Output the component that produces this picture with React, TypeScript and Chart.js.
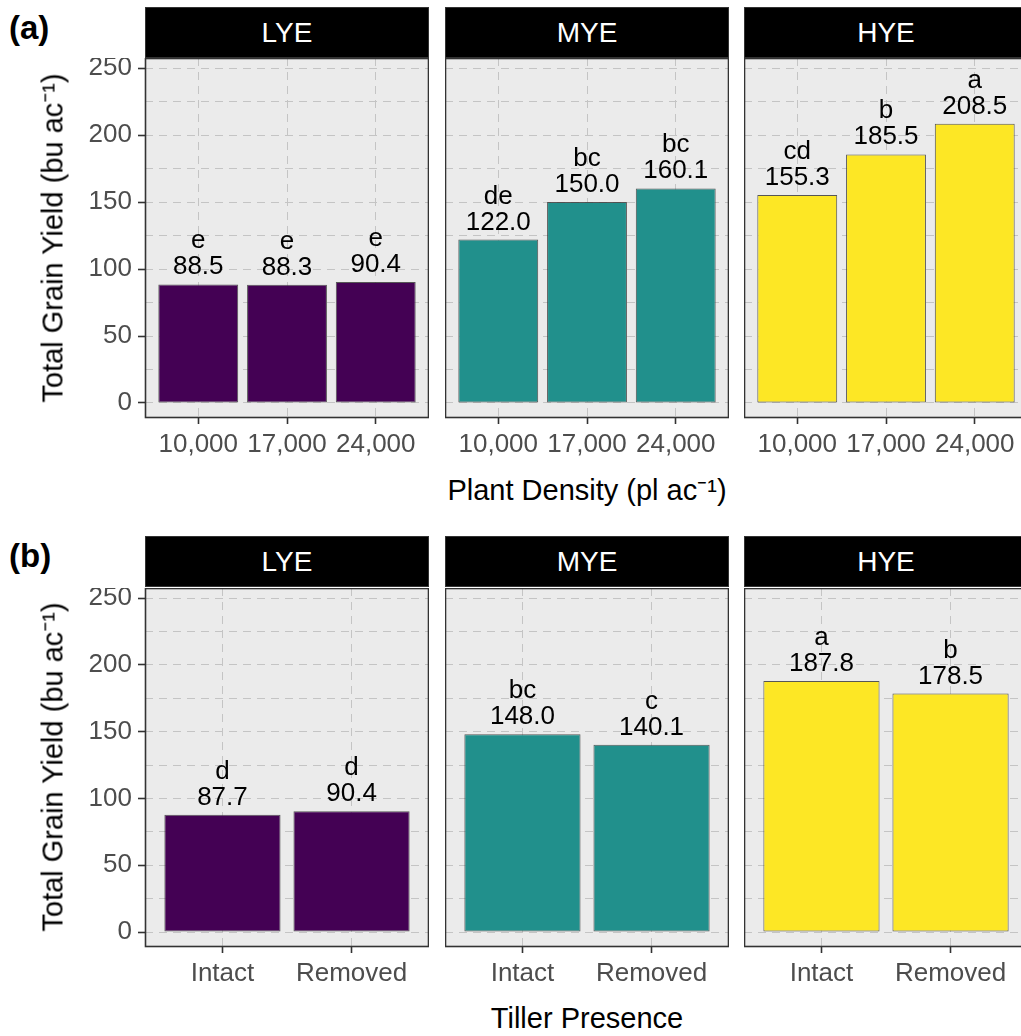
import React, { useEffect, useRef } from "react";
import { Chart, registerables } from "chart.js";
Chart.register(...registerables);

// ---------- data ----------
const hybrids = ["LYE", "MYE", "HYE"];
const hybridColors = ["#440154", "#21908C", "#FDE725"];

const densityCategories = ["10,000", "17,000", "24,000"];
const densityLYE = [88.5, 88.3, 90.4];
const densityMYE = [122.0, 150.0, 160.1];
const densityHYE = [155.3, 185.5, 208.5];
const densityLettersLYE = ["e", "e", "e"];
const densityLettersMYE = ["de", "bc", "bc"];
const densityLettersHYE = ["cd", "b", "a"];

const tillerCategories = ["Intact", "Removed"];
const tillerLYE = [87.7, 90.4];
const tillerMYE = [148.0, 140.1];
const tillerHYE = [187.8, 178.5];
const tillerLettersLYE = ["d", "d"];
const tillerLettersMYE = ["bc", "c"];
const tillerLettersHYE = ["a", "b"];

const yGridValues = [0, 25, 50, 75, 100, 125, 150, 175, 200, 225, 250];
const yMin = -11.2;
const yMax = 257.5;

const FONT = "'Liberation Sans', Arial, Helvetica, sans-serif";

type PanelProps = {
  categories: string[];
  values: number[];
  letters: string[];
  color: string;
  showY: boolean;
  left: number;
  top: number;
  width: number;
  height: number;
};

const Y_AXIS_W = 90;
const X_AXIS_H = 52;

function Panel({ categories, values, letters, color, showY, left, top, width, height }: PanelProps) {
  const ref = useRef<HTMLCanvasElement | null>(null);
  const yW = showY ? Y_AXIS_W : 0;
  const cw = width + yW;
  const ch = height + X_AXIS_H;

  useEffect(() => {
    if (!ref.current) return;
    const n = categories.length;
    const bgPlugin = {
      id: "panelBg",
      beforeDraw(chart: any) {
        const { ctx, chartArea: a } = chart;
        ctx.save();
        ctx.fillStyle = "#EBEBEB";
        ctx.fillRect(a.left, a.top, a.right - a.left, a.bottom - a.top);
        ctx.restore();
      },
      afterDraw(chart: any) {
        const { ctx, chartArea: a } = chart;
        ctx.save();
        ctx.strokeStyle = "#333333";
        ctx.lineWidth = 1.6;
        ctx.strokeRect(a.left + 0.5, a.top + 0.5, a.right - a.left - 1, a.bottom - a.top - 1);
        ctx.restore();
      },
    };
    const labelPlugin = {
      id: "barLabels",
      afterDatasetsDraw(chart: any) {
        const { ctx } = chart;
        const meta = chart.getDatasetMeta(0);
        ctx.save();
        ctx.fillStyle = "#000000";
        ctx.font = `26px ${FONT}`;
        ctx.textAlign = "center";
        ctx.textBaseline = "alphabetic";
        meta.data.forEach((bar: any, i: number) => {
          ctx.fillText(values[i].toFixed(1), bar.x, bar.y - 10);
          ctx.fillText(letters[i], bar.x, bar.y - 36);
        });
        ctx.restore();
      },
    };

    const chart = new Chart(ref.current, {
      type: "bar",
      data: {
        datasets: [
          {
            data: values.map((v, i) => ({ x: i, y: v })),
            backgroundColor: color,
            borderColor: "rgba(60,60,60,0.85)",
            borderWidth: 1,
            borderSkipped: false,
            barPercentage: 0.9,
            categoryPercentage: 1,
          } as any,
        ],
      },
      options: {
        animation: false,
        responsive: false,
        maintainAspectRatio: false,
        layout: { padding: 0 },
        plugins: { legend: { display: false }, tooltip: { enabled: false } },
        scales: {
          x: {
            type: "linear",
            offset: false,
            min: -0.6,
            max: n - 1 + 0.6,
            afterBuildTicks: (s: any) => {
              s.ticks = categories.map((_, i) => ({ value: i }));
            },
            afterFit: (s: any) => {
              s.height = X_AXIS_H;
              s.paddingLeft = 0;
              s.paddingRight = 0;
            },
            grid: {
              offset: false,
              color: "#C4C4C4",
              lineWidth: 1,
              tickColor: "#333333",
              tickLength: 6,
              tickWidth: 1.6,
            },
            border: { display: false, dash: [8, 6] },
            ticks: {
              autoSkip: false,
              maxRotation: 0,
              minRotation: 0,
              padding: 5,
              color: "#4D4D4D",
              font: { family: FONT, size: 26 },
              callback: (v: any) => categories[v] ?? "",
            },
          } as any,
          y: {
            type: "linear",
            min: yMin,
            max: yMax,
            afterBuildTicks: (s: any) => {
              s.ticks = yGridValues.map((v) => ({ value: v }));
            },
            afterFit: (s: any) => {
              s.width = yW;
              s.paddingTop = 0;
              s.paddingBottom = 0;
            },
            grid: {
              color: "#C4C4C4",
              lineWidth: 1,
              drawTicks: showY,
              tickLength: showY ? 7 : 0,
              tickWidth: 1.6,
              tickColor: (ctx: any) =>
                showY && ctx.tick && ctx.tick.value % 50 === 0 ? "#333333" : "rgba(0,0,0,0)",
            },
            border: { display: false, dash: [8, 6] },
            ticks: {
              display: showY,
              padding: 6,
              color: "#4D4D4D",
              font: { family: FONT, size: 26 },
              callback: (v: any) => (Number(v) % 50 === 0 ? String(v) : ""),
            },
          } as any,
        },
      },
      plugins: [bgPlugin, labelPlugin],
    });
    return () => chart.destroy();
  }, []);

  return (
    <canvas
      ref={ref}
      width={cw}
      height={ch}
      style={{ position: "absolute", left: left - yW, top, width: cw, height: ch }}
    />
  );
}

const panelLefts = [145, 445, 744];
const PANEL_W = 284;

function Strip({ label, left, top }: { label: string; left: number; top: number }) {
  return (
    <div
      style={{
        position: "absolute",
        left,
        top,
        width: PANEL_W,
        height: 51,
        background: "#000",
        color: "#fff",
        fontFamily: FONT,
        fontSize: 28,
        display: "flex",
        alignItems: "center",
        justifyContent: "center",
        boxSizing: "border-box",
        border: "1px solid #333",
      }}
    >
      {label}
    </div>
  );
}

export default function App() {
  const rowA = [
    { v: densityLYE, l: densityLettersLYE },
    { v: densityMYE, l: densityLettersMYE },
    { v: densityHYE, l: densityLettersHYE },
  ];
  const rowB = [
    { v: tillerLYE, l: tillerLettersLYE },
    { v: tillerMYE, l: tillerLettersMYE },
    { v: tillerHYE, l: tillerLettersHYE },
  ];
  const textBase: React.CSSProperties = {
    position: "absolute",
    fontFamily: FONT,
    whiteSpace: "nowrap",
    color: "#000",
    lineHeight: 1,
  };
  return (
    <div
      style={{
        position: "fixed",
        left: 0,
        top: 0,
        width: 1021,
        height: 1036,
        overflow: "hidden",
        background: "#fff",
      }}
    >
      {/* Row (a) */}
      <div style={{ ...textBase, left: 9, top: 27, fontSize: 33, fontWeight: "bold", transform: "translateY(-50%)" }}>
        (a)
      </div>
      {hybrids.map((h, i) => (
        <Strip key={"sa" + h} label={h} left={panelLefts[i]} top={7} />
      ))}
      {rowA.map((r, i) => (
        <Panel
          key={"pa" + i}
          categories={densityCategories}
          values={r.v}
          letters={r.l}
          color={hybridColors[i]}
          showY={i === 0}
          left={panelLefts[i]}
          top={58}
          width={PANEL_W}
          height={360}
        />
      ))}
      <div
        style={{
          ...textBase,
          left: 53,
          top: 238,
          fontSize: 29,
          transform: "translate(-50%, -50%) rotate(-90deg)",
        }}
      >
        Total Grain Yield (bu ac⁻¹)
      </div>
      <div style={{ ...textBase, left: 587, top: 490, fontSize: 29, transform: "translate(-50%, -50%)" }}>
        Plant Density (pl ac⁻¹)
      </div>

      {/* Row (b) */}
      <div style={{ ...textBase, left: 9, top: 555, fontSize: 33, fontWeight: "bold", transform: "translateY(-50%)" }}>
        (b)
      </div>
      {hybrids.map((h, i) => (
        <Strip key={"sb" + h} label={h} left={panelLefts[i]} top={536} />
      ))}
      {rowB.map((r, i) => (
        <Panel
          key={"pb" + i}
          categories={tillerCategories}
          values={r.v}
          letters={r.l}
          color={hybridColors[i]}
          showY={i === 0}
          left={panelLefts[i]}
          top={588}
          width={PANEL_W}
          height={359}
        />
      ))}
      <div
        style={{
          ...textBase,
          left: 53,
          top: 767,
          fontSize: 29,
          transform: "translate(-50%, -50%) rotate(-90deg)",
        }}
      >
        Total Grain Yield (bu ac⁻¹)
      </div>
      <div style={{ ...textBase, left: 587, top: 1018, fontSize: 29, transform: "translate(-50%, -50%)" }}>
        Tiller Presence
      </div>
    </div>
  );
}
